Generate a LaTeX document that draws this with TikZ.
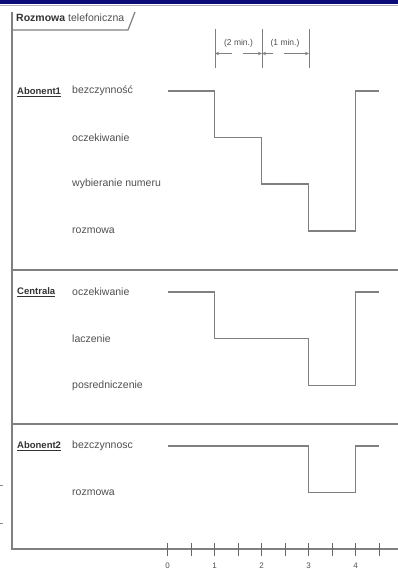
\documentclass[tikz,border=0pt]{standalone}
\usepackage{fontspec}
\setmainfont{Liberation Sans}
\usetikzlibrary{arrows.meta}
\definecolor{barblue}{HTML}{0A0A78}
\definecolor{lineg}{HTML}{808080}
\definecolor{txt}{HTML}{505050}
\tikzset{
  framestroke/.style={draw=lineg, line width=1.2pt},
  wave/.style={draw=lineg, line width=1.2pt},
  tickmark/.style={draw=lineg!80!black, line width=0.9pt},
  state/.style={anchor=west, inner sep=0pt, text=txt, font=\fontsize{10.5}{12}\selectfont},
  lifeline/.style={anchor=west, inner sep=0pt, text=black!80, font=\fontsize{9.5}{12}\selectfont\bfseries},
  ticklabel/.style={inner sep=0pt, text=txt, font=\fontsize{8}{9}\selectfont},
  durlabel/.style={inner sep=0pt, text=txt, font=\fontsize{8.5}{10}\selectfont},
  durline/.style={draw=lineg, line width=1pt},
  durarrow/.style={draw=lineg, line width=0.8pt, -{Stealth[length=4pt,width=3.5pt]}}
}
\begin{document}
\begin{tikzpicture}[x=1pt,y=-1pt]
  \useasboundingbox (0,0) rectangle (398,569);
  \fill[white] (0,0) rectangle (398,569);

  % window title bar
  \fill[barblue] (0,0) rectangle (398,4);
  \draw[black!30, line width=0.6pt] (0,5) -- (398,5);

  % frame with name tab
  \draw[framestroke] (12,12) -- (12,549) -- (398,549);
  \draw[framestroke] (12,30) -- (128,30) -- (135,12);
  \node[anchor=west, inner sep=0pt, text=black!80, font=\fontsize{10.5}{12}\selectfont]
    (title) at (16,18) {\textbf{Rozmowa} \textcolor{txt}{telefoniczna}};

  % lifeline separators
  \draw[framestroke] (12,270) -- (398,270);
  \draw[framestroke] (12,424) -- (398,424);

  % small marks at the left edge
  \draw[black!45, line width=0.8pt] (0,485) -- (2.5,485);
  \draw[black!45, line width=0.8pt] (0,523) -- (2.5,523);

  % duration constraints
  \coordinate (d1t) at (215,29);  \coordinate (d1b) at (215,68);
  \coordinate (d2t) at (262,29);  \coordinate (d2b) at (262,68);
  \coordinate (d3t) at (309,29);  \coordinate (d3b) at (309,68);
  \draw[durline] (d1t) -- (d1b);
  \draw[durline] (d2t) -- (d2b);
  \draw[durline] (d3t) -- (d3b);
  \coordinate (a1) at (215,53.5); \coordinate (a2) at (262,53.5); \coordinate (a3) at (309,53.5);
  \coordinate (g1l) at (232,53.5); \coordinate (g1r) at (243,53.5);
  \coordinate (g2l) at (273,53.5); \coordinate (g2r) at (284,53.5);
  \draw[durarrow] (g1l) -- (a1);
  \draw[durarrow] (g1r) -- (a2);
  \draw[durarrow] (g2l) -- (a2);
  \draw[durarrow] (g2r) -- (a3);
  \node[durlabel] (dur1) at (238.5,43.5) {(2 min.)};
  \node[durlabel] (dur2) at (285,43.5) {(1 min.)};

  % Abonent1
  \node[lifeline] (ab1) at (17,92) {\underline{Abonent1}};
  \node[state] (s11) at (72,91) {bezczynność};
  \node[state] (s12) at (72,137.5) {oczekiwanie};
  \node[state] (s13) at (72,184) {wybieranie numeru};
  \node[state] (s14) at (72,231) {rozmowa};
  \draw[wave] (167.5,91) -| (214.5,137.5) -| (261.5,184) -| (308.5,231)
              -| (355.5,91) -- (379,91);

  % Centrala
  \node[lifeline] (cen) at (17,292.5) {\underline{Centrala}};
  \node[state] (s21) at (72,292) {oczekiwanie};
  \node[state] (s22) at (72,338.7) {laczenie};
  \node[state] (s23) at (72,385.3) {posredniczenie};
  \draw[wave] (167.5,292) -| (214.5,338.7) -| (308.5,385.3)
              -| (355.5,292) -- (379,292);

  % Abonent2
  \node[lifeline] (ab2) at (17,446.5) {\underline{Abonent2}};
  \node[state] (s31) at (72,446) {bezczynnosc};
  \node[state] (s32) at (72,492.3) {rozmowa};
  \draw[wave] (167.5,446) -| (308.5,492.3) -| (355.5,446) -- (379,446);

  % time axis ticks and labels
  \foreach \t in {0,0.5,...,4.5}{
    \draw[tickmark] ({167.5+47*\t},543) -- ({167.5+47*\t},556);
  }
  \foreach \t in {0,1,2,3,4}{
    \node[ticklabel] (tl\t) at ({167.5+47*\t},565.5) {\t};
  }
\end{tikzpicture}
\end{document}
